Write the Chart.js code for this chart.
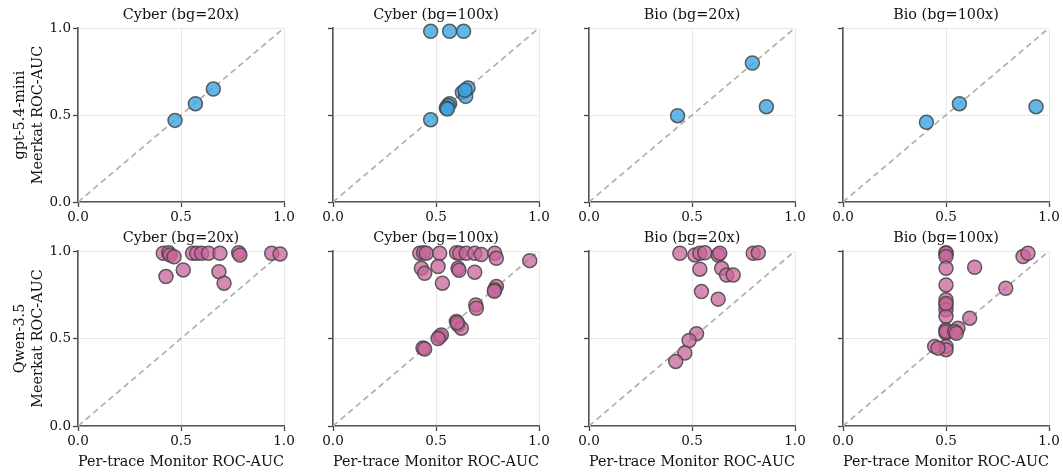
<!DOCTYPE html>
<html>
<head>
<meta charset="utf-8">
<script src="https://cdn.jsdelivr.net/npm/chart.js@4.4.1/dist/chart.umd.min.js"></script>
<style>
    body { margin: 0; background: #ffffff; }
    #wrap { position: relative; width: 1063px; height: 473px; overflow: hidden; }
    #wrap canvas { position: absolute; }
</style>
</head>
<body>
<div id="wrap"></div>
<script>
// panel titles / row labels / ticks
var panelTitles = ['Cyber (bg=20x)', 'Cyber (bg=100x)', 'Bio (bg=20x)', 'Bio (bg=100x)'];
var rowLabels = [['gpt-5.4-mini', 'Meerkat ROC-AUC'], ['Qwen-3.5', 'Meerkat ROC-AUC']];
var xAxisLabel = 'Per-trace Monitor ROC-AUC';
var tickValues = [0, 0.5, 1];

// gpt-5.4-mini (row 1)
var gptCyber20X = [0.471, 0.570, 0.657];
var gptCyber20Y = [0.469, 0.565, 0.649];
var gptCyber100X = [0.474, 0.566, 0.634, 0.474, 0.566, 0.558, 0.550, 0.555, 0.628, 0.644, 0.655, 0.641];
var gptCyber100Y = [0.981, 0.981, 0.981, 0.473, 0.565, 0.554, 0.540, 0.534, 0.630, 0.607, 0.655, 0.642];
var gptBio20X = [0.430, 0.793, 0.861];
var gptBio20Y = [0.496, 0.799, 0.548];
var gptBio100X = [0.405, 0.565, 0.937];
var gptBio100Y = [0.458, 0.565, 0.548];

// Qwen-3.5 (row 2)
var qwenCyber20X = [0.414, 0.440, 0.447, 0.466, 0.556, 0.576, 0.600, 0.633, 0.689, 0.780, 0.786, 0.940, 0.981, 0.511, 0.427, 0.684, 0.709];
var qwenCyber20Y = [0.987, 0.990, 0.977, 0.967, 0.987, 0.987, 0.987, 0.987, 0.987, 0.990, 0.977, 0.987, 0.983, 0.892, 0.854, 0.882, 0.816];
var qwenCyber100X = [0.421, 0.440, 0.453, 0.518, 0.600, 0.615, 0.647, 0.688, 0.720, 0.785, 0.793, 0.955, 0.429, 0.445, 0.510, 0.607, 0.612, 0.688, 0.531, 0.793, 0.785, 0.783, 0.693, 0.696, 0.599, 0.607, 0.623, 0.603, 0.518, 0.526, 0.510, 0.437, 0.445];
var qwenCyber100Y = [0.987, 0.990, 0.987, 0.987, 0.990, 0.987, 0.987, 0.987, 0.980, 0.987, 0.958, 0.945, 0.901, 0.873, 0.911, 0.901, 0.890, 0.879, 0.816, 0.797, 0.778, 0.770, 0.692, 0.673, 0.597, 0.578, 0.559, 0.590, 0.512, 0.520, 0.500, 0.446, 0.440];
var qwenBio20X = [0.441, 0.514, 0.538, 0.562, 0.627, 0.635, 0.797, 0.822, 0.538, 0.644, 0.668, 0.700, 0.546, 0.627, 0.522, 0.486, 0.465, 0.421];
var qwenBio20Y = [0.987, 0.977, 0.987, 0.990, 0.977, 0.987, 0.987, 0.990, 0.896, 0.901, 0.863, 0.863, 0.768, 0.725, 0.527, 0.489, 0.417, 0.369];
var qwenBio100X = [0.500, 0.500, 0.500, 0.500, 0.500, 0.500, 0.500, 0.500, 0.500, 0.500, 0.500, 0.500, 0.500, 0.500, 0.500, 0.639, 0.874, 0.898, 0.790, 0.615, 0.558, 0.542, 0.550, 0.445, 0.461];
var qwenBio100Y = [0.990, 0.987, 0.968, 0.901, 0.806, 0.721, 0.692, 0.664, 0.626, 0.550, 0.531, 0.455, 0.436, 0.540, 0.700, 0.907, 0.968, 0.987, 0.787, 0.616, 0.559, 0.540, 0.530, 0.455, 0.445];

var panelX = [[gptCyber20X, gptCyber100X, gptBio20X, gptBio100X], [qwenCyber20X, qwenCyber100X, qwenBio20X, qwenBio100X]];
var panelY = [[gptCyber20Y, gptCyber100Y, gptBio20Y, gptBio100Y], [qwenCyber20Y, qwenCyber100Y, qwenBio20Y, qwenBio100Y]];
var rowColors = ['rgba(60,165,225,0.8)', 'rgba(200,100,155,0.75)'];

var FONT = 'DejaVu Serif';
var plotLefts = [78, 333, 589, 843];
var plotW = 206;
var rightPad = 14;
// row layout: canvas top, canvas height, title block, title baseline, x axis block
var rows = [
    { top: 0, height: 228, titleH: 28, titleY: 19, xH: 26 },
    { top: 228, height: 245, titleH: 23, titleY: 14, xH: 47 }
];

// subplot title centred over the plot area, not the whole canvas
var panelTitlePlugin = {
    id: 'panelTitle',
    afterDraw: function (chart, args, opts) {
        var ctx = chart.ctx;
        var area = chart.chartArea;
        ctx.save();
        ctx.fillStyle = '#111';
        ctx.font = '14.4px "' + FONT + '"';
        ctx.textAlign = 'center';
        ctx.textBaseline = 'alphabetic';
        ctx.fillText(opts.text, (area.left + area.right) / 2, opts.y);
        ctx.restore();
    }
};

function toPoints(xs, ys) {
    var pts = [];
    for (var i = 0; i < xs.length; i++) {
        pts.push({ x: xs[i], y: ys[i] });
    }
    return pts;
}

function makePanel(r, c) {
    var row = rows[r];
    var axisW = c === 0 ? plotLefts[0] : 24;
    var canvas = document.createElement('canvas');
    canvas.width = axisW + plotW + rightPad;
    canvas.height = row.height;
    canvas.style.left = (plotLefts[c] - axisW) + 'px';
    canvas.style.top = row.top + 'px';
    document.getElementById('wrap').appendChild(canvas);

    var showX = r === 1;
    var showY = c === 0;

    new Chart(canvas, {
        type: 'scatter',
        plugins: [panelTitlePlugin],
        data: {
            datasets: [
                {
                    data: toPoints(panelX[r][c], panelY[r][c]),
                    backgroundColor: rowColors[r],
                    borderColor: 'rgba(70,70,70,0.85)',
                    borderWidth: 1.5,
                    pointRadius: 7,
                    clip: false,
                    order: 0
                },
                {
                    data: [{ x: 0, y: 0 }, { x: 1, y: 1 }],
                    showLine: true,
                    borderColor: '#b0b0b0',
                    borderWidth: 1.7,
                    borderDash: [6, 4],
                    pointRadius: 0,
                    order: 1
                }
            ]
        },
        options: {
            responsive: false,
            animation: false,
            events: [],
            layout: { padding: { left: 0, right: rightPad, top: row.titleH, bottom: 0 } },
            plugins: {
                legend: { display: false },
                tooltip: { enabled: false },
                title: { display: false },
                panelTitle: { text: panelTitles[c], y: row.titleY }
            },
            scales: {
                x: {
                    type: 'linear',
                    min: 0,
                    max: 1,
                    afterBuildTicks: function (s) { s.ticks = tickValues.map(function (v) { return { value: v }; }); },
                    afterFit: function (s) { s.height = row.xH; },
                    ticks: {
                        color: '#111',
                        padding: 2,
                        maxRotation: 0,
                        font: { family: FONT, size: 13.5 },
                        callback: function (v) { return v.toFixed(1); }
                    },
                    grid: { color: '#e8e8e8', lineWidth: 1, tickColor: '#444', tickLength: 5, tickWidth: 1.3 },
                    border: { color: '#555', width: 1.6 },
                    title: {
                        display: showX,
                        text: xAxisLabel,
                        color: '#111',
                        font: { family: FONT, size: 14.4 },
                        padding: { top: 0, bottom: 2.4 }
                    }
                },
                y: {
                    type: 'linear',
                    min: 0,
                    max: 1,
                    afterBuildTicks: function (s) { s.ticks = tickValues.map(function (v) { return { value: v }; }); },
                    afterFit: function (s) { s.width = axisW; },
                    ticks: {
                        color: '#111',
                        padding: 2,
                        font: { family: FONT, size: 13.5 },
                        callback: function (v) { return showY ? v.toFixed(1) : ''; }
                    },
                    grid: { color: '#e8e8e8', lineWidth: 1, tickColor: '#444', tickLength: 5, tickWidth: 1.3 },
                    border: { color: '#555', width: 1.6 },
                    title: {
                        display: showY,
                        text: rowLabels[r],
                        color: '#111',
                        font: { family: FONT, size: 14.4, lineHeight: 1.2 },
                        padding: { top: 12, bottom: 0 }
                    }
                }
            }
        }
    });
}

for (var r = 0; r < 2; r++) {
    for (var c = 0; c < 4; c++) {
        makePanel(r, c);
    }
}
</script>
</body>
</html>
